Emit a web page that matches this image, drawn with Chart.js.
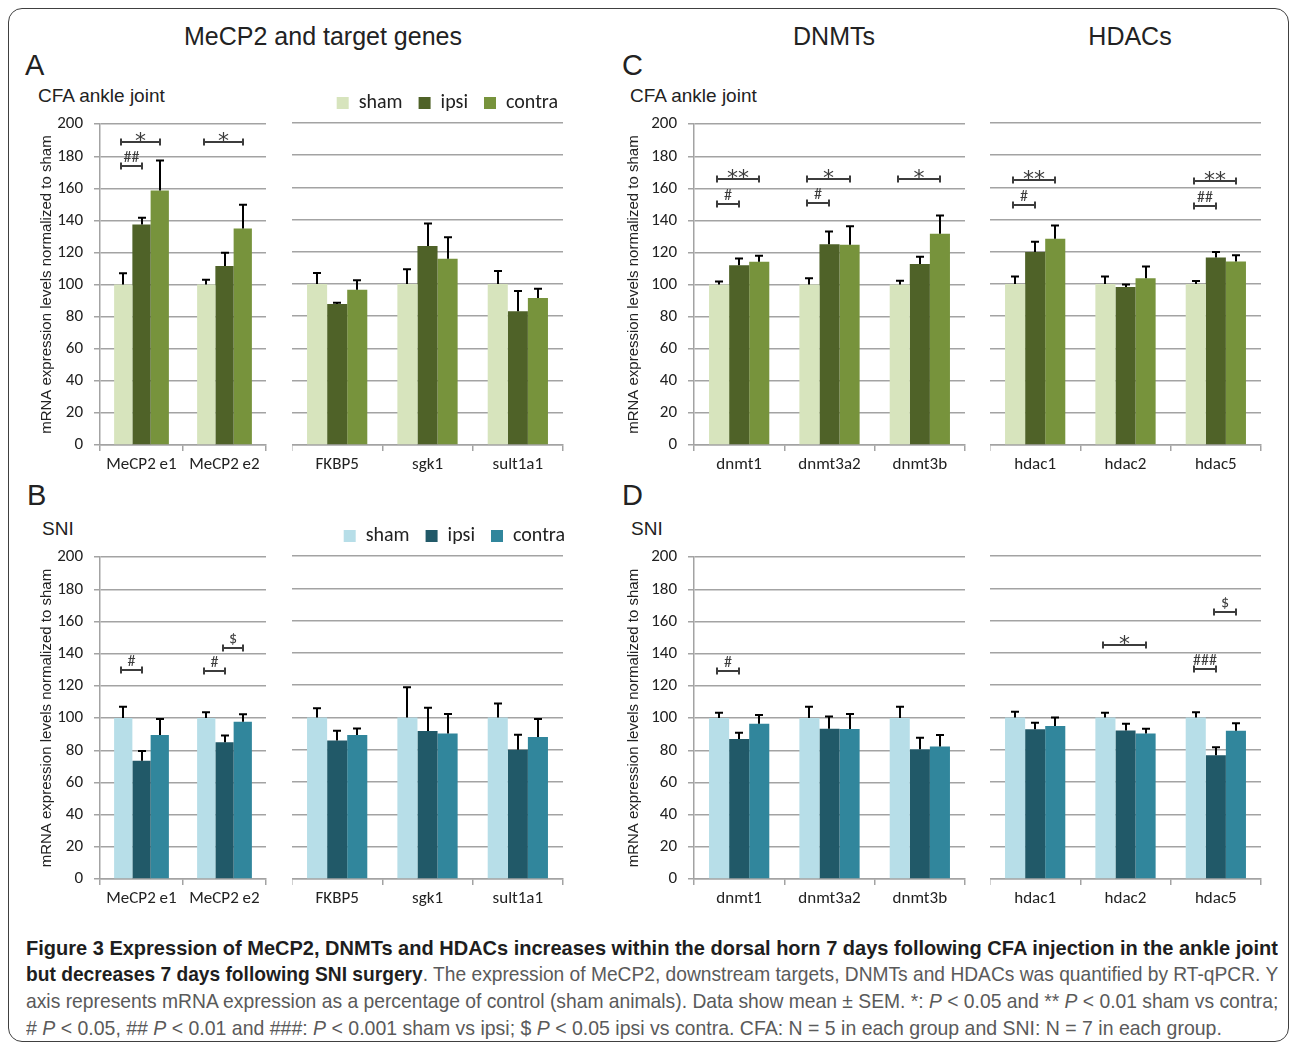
<!DOCTYPE html>
<html>
<head>
<meta charset="utf-8">
<title>Figure 3</title>
<script src="https://cdn.jsdelivr.net/npm/chart.js@4.4.1/dist/chart.umd.min.js"></script>
<style>
html,body{margin:0;padding:0;background:#fff;}
body{width:1290px;height:1045px;position:relative;overflow:hidden;font-family:'Liberation Sans',Arial,sans-serif;}
#frame{position:absolute;left:8px;top:8px;width:1281px;height:1034px;border:1.5px solid #404040;border-radius:14px;box-sizing:border-box;}
.t{position:absolute;white-space:nowrap;color:#222;line-height:1;}
.h{font-size:25px;transform:translateX(-50%);}
.p{font-size:29px;}
.s{font-size:19px;}
canvas{position:absolute;}
.cap{position:absolute;left:26px;white-space:nowrap;transform-origin:0 0;font-size:21px;line-height:1;color:#5a5a5a;font-family:'Liberation Sans Narrow','Liberation Sans',Arial,sans-serif;}
.cap b{color:#1e1e1e;}
</style>
</head>
<body>
<div id="frame"></div>

<div class="t h" style="left:323px;top:24px;">MeCP2 and target genes</div>
<div class="t h" style="left:834px;top:24px;">DNMTs</div>
<div class="t h" style="left:1130px;top:24px;">HDACs</div>

<div class="t p" style="left:25px;top:51px;">A</div>
<div class="t p" style="left:622px;top:51px;">C</div>
<div class="t s" style="left:38px;top:86px;">CFA ankle joint</div>
<div class="t s" style="left:630px;top:86px;">CFA ankle joint</div>

<div class="t p" style="left:27px;top:481px;">B</div>
<div class="t p" style="left:622px;top:481px;">D</div>
<div class="t s" style="left:42px;top:519px;">SNI</div>
<div class="t s" style="left:631px;top:519px;">SNI</div>

<canvas id="cA1" width="232" height="377" style="left:38px;top:103px;"></canvas>
<canvas id="cA2" width="286" height="403" style="left:292px;top:77px;"></canvas>
<canvas id="cC1" width="344" height="377" style="left:625px;top:103px;"></canvas>
<canvas id="cC2" width="275" height="367" style="left:990px;top:113px;"></canvas>
<canvas id="cB1" width="232" height="378" style="left:38px;top:536px;"></canvas>
<canvas id="cB2" width="293" height="404" style="left:292px;top:510px;"></canvas>
<canvas id="cD1" width="344" height="378" style="left:625px;top:536px;"></canvas>
<canvas id="cD2" width="275" height="368" style="left:990px;top:546px;"></canvas>

<div class="cap" data-w="1252" style="top:937px;"><b>Figure 3 Expression of MeCP2, DNMTs and HDACs increases within the dorsal horn 7 days following CFA injection in the ankle joint</b></div>
<div class="cap" data-w="1252" style="top:963px;"><b>but decreases 7 days following SNI surgery</b>. The expression of MeCP2, downstream targets, DNMTs and HDACs was quantified by RT-qPCR. Y</div>
<div class="cap" data-w="1252" style="top:990px;">axis represents mRNA expression as a percentage of control (sham animals). Data show mean ± SEM. *: <i>P</i> &lt; 0.05 and ** <i>P</i> &lt; 0.01 sham vs contra;</div>
<div class="cap" data-w="1196" style="top:1017px;"># <i>P</i> &lt; 0.05, ## <i>P</i> &lt; 0.01 and ###: <i>P</i> &lt; 0.001 sham vs ipsi; $ <i>P</i> &lt; 0.05 ipsi vs contra. CFA: N = 5 in each group and SNI: N = 7 in each group.</div>

<script>
// ---------------- DATA ----------------
const seriesNames = ['sham', 'ipsi', 'contra'];
const yAxisTitle = 'mRNA expression levels normalized to sham';
const yMin = 0, yMax = 200, yStep = 20;

// A: CFA ankle joint - MeCP2
const cfaMecpCategories = ['MeCP2 e1', 'MeCP2 e2'];
const cfaMecpSham      = [100, 100];
const cfaMecpIpsi      = [137.4, 111.6];
const cfaMecpContra    = [158.7, 134.9];
const cfaMecpShamSem   = [7.0, 3.0];
const cfaMecpIpsiSem   = [4.3, 8.2];
const cfaMecpContraSem = [18.6, 14.9];
const cfaMecpSig = [
  {cat: 0, from: 0, to: 2, y: 189, label: '*'},
  {cat: 0, from: 0, to: 1, y: 174, label: '##'},
  {cat: 1, from: 0, to: 2, y: 189, label: '*'}
];

// A: CFA ankle joint - MeCP2 target genes
const cfaTargetCategories = ['FKBP5', 'sgk1', 'sult1a1'];
const cfaTargetSham      = [100, 100, 100];
const cfaTargetIpsi      = [87.6, 123.6, 83.1];
const cfaTargetContra    = [96.5, 115.7, 91.3];
const cfaTargetShamSem   = [6.8, 9.1, 8.0];
const cfaTargetIpsiSem   = [0.8, 14.0, 12.6];
const cfaTargetContraSem = [5.8, 13.4, 5.8];
const cfaTargetSig = [];

// C: CFA ankle joint - DNMTs
const cfaDnmtCategories = ['dnmt1', 'dnmt3a2', 'dnmt3b'];
const cfaDnmtSham      = [100, 100, 100];
const cfaDnmtIpsi      = [112.1, 125.2, 112.8];
const cfaDnmtContra    = [114.2, 124.8, 131.7];
const cfaDnmtShamSem   = [2.0, 4.0, 2.4];
const cfaDnmtIpsiSem   = [4.2, 7.9, 4.5];
const cfaDnmtContraSem = [3.8, 11.6, 11.4];
const cfaDnmtSig = [
  {cat: 0, from: 0, to: 2, y: 165.7, label: '**'},
  {cat: 0, from: 0, to: 1, y: 150.2, label: '#'},
  {cat: 1, from: 0, to: 2, y: 165.7, label: '*'},
  {cat: 1, from: 0, to: 1, y: 150.6, label: '#'},
  {cat: 2, from: 0, to: 2, y: 165.7, label: '*'}
];

// C: CFA ankle joint - HDACs
const cfaHdacCategories = ['hdac1', 'hdac2', 'hdac5'];
const cfaHdacSham      = [100, 100, 100];
const cfaHdacIpsi      = [119.8, 98.2, 116.5];
const cfaHdacContra    = [128.1, 103.6, 114.0];
const cfaHdacShamSem   = [4.7, 4.7, 1.8];
const cfaHdacIpsiSem   = [6.5, 1.5, 3.3];
const cfaHdacContraSem = [8.3, 7.3, 3.8];
const cfaHdacSig = [
  {cat: 0, from: 0, to: 2, y: 164.5, label: '**'},
  {cat: 0, from: 0, to: 1, y: 149.1, label: '#'},
  {cat: 2, from: 0, to: 2, y: 164.0, label: '**'},
  {cat: 2, from: 0, to: 1, y: 148.3, label: '##'}
];

// B: SNI - MeCP2
const sniMecpCategories = ['MeCP2 e1', 'MeCP2 e2'];
const sniMecpSham      = [100, 100];
const sniMecpIpsi      = [73.5, 85.0];
const sniMecpContra    = [89.5, 97.8];
const sniMecpShamSem   = [7.0, 3.6];
const sniMecpIpsiSem   = [6.0, 4.2];
const sniMecpContraSem = [10.0, 4.6];
const sniMecpSig = [
  {cat: 0, from: 0, to: 1, y: 130, label: '#'},
  {cat: 1, from: 0, to: 1, y: 129, label: '#'},
  {cat: 1, from: 1, to: 2, y: 143.6, label: '$'}
];

// B: SNI - MeCP2 target genes
const sniTargetCategories = ['FKBP5', 'sgk1', 'sult1a1'];
const sniTargetSham      = [100, 100, 100];
const sniTargetIpsi      = [85.7, 91.6, 80.1];
const sniTargetContra    = [89.1, 90.1, 88.0];
const sniTargetShamSem   = [5.7, 18.8, 8.6];
const sniTargetIpsiSem   = [6.1, 14.5, 9.2];
const sniTargetContraSem = [4.1, 12.1, 11.0];
const sniTargetSig = [];

// D: SNI - DNMTs
const sniDnmtCategories = ['dnmt1', 'dnmt3a2', 'dnmt3b'];
const sniDnmtSham      = [100, 100, 100];
const sniDnmtIpsi      = [87.0, 93.4, 80.6];
const sniDnmtContra    = [96.5, 93.2, 82.3];
const sniDnmtShamSem   = [3.3, 7.0, 7.0];
const sniDnmtIpsiSem   = [3.9, 7.6, 7.2];
const sniDnmtContraSem = [5.4, 9.3, 7.2];
const sniDnmtSig = [
  {cat: 0, from: 0, to: 1, y: 129.4, label: '#'}
];

// D: SNI - HDACs
const sniHdacCategories = ['hdac1', 'hdac2', 'hdac5'];
const sniHdacSham      = [100, 100, 100];
const sniHdacIpsi      = [92.8, 92.0, 76.7];
const sniHdacContra    = [94.8, 90.1, 91.8];
const sniHdacShamSem   = [3.5, 2.9, 3.3];
const sniHdacIpsiSem   = [3.9, 4.1, 4.9];
const sniHdacContraSem = [5.2, 2.9, 4.7];
const sniHdacSig = [
  {cat: 1, from: 0, to: 2, y: 145.2, label: '*'},
  {cat: 2, from: 1, to: 2, y: 165.6, label: '$'},
  {cat: 2, from: 0, to: 1, y: 130.3, label: '###'}
];

// ---------------- STYLE ----------------
const cfaColors = ['#d7e4bd', '#4f6228', '#77933c'];
const sniColors = ['#b7dee8', '#215968', '#31869c'];
const calibriLike = "Carlito, Calibri, Lato, 'Open Sans', sans-serif";
const gridColor = '#a3a3a3';

Chart.defaults.animation = false;
Chart.defaults.devicePixelRatio = 1;

function annotations(sems, sig) {
  return {
    id: 'semAndSig',
    afterDatasetsDraw(chart) {
      const ctx = chart.ctx;
      const ys = chart.scales.y;
      ctx.save();
      // SEM error bars (upper only)
      ctx.strokeStyle = '#000';
      ctx.lineWidth = 2;
      chart.data.datasets.forEach((ds, i) => {
        chart.getDatasetMeta(i).data.forEach((bar, j) => {
          const x = Math.round(bar.x);
          const top = ys.getPixelForValue(ds.data[j] + sems[i][j]);
          ctx.beginPath();
          ctx.moveTo(x, bar.y);
          ctx.lineTo(x, top);
          ctx.moveTo(x - 4, top);
          ctx.lineTo(x + 4, top);
          ctx.stroke();
        });
      });
      // significance brackets
      ctx.strokeStyle = '#3c3c3c';
      ctx.fillStyle = '#3c3c3c';
      ctx.textAlign = 'center';
      ctx.textBaseline = 'alphabetic';
      sig.forEach(s => {
        const x1 = Math.round(chart.getDatasetMeta(s.from).data[s.cat].x) - 2;
        const x2 = Math.round(chart.getDatasetMeta(s.to).data[s.cat].x);
        const y = Math.round(ys.getPixelForValue(s.y));
        ctx.lineWidth = 2;
        ctx.beginPath();
        ctx.moveTo(x1, y); ctx.lineTo(x2, y);
        ctx.moveTo(x1, y - 3.5); ctx.lineTo(x1, y + 3.5);
        ctx.moveTo(x2, y - 3.5); ctx.lineTo(x2, y + 3.5);
        ctx.stroke();
        const star = s.label.indexOf('*') >= 0;
        ctx.font = star ? "22px 'DejaVu Sans', sans-serif" : '16px ' + calibriLike;
        ctx.fillText(s.label, (x1 + x2) / 2, star ? y + 6 : y - 4);
      });
      ctx.restore();
    }
  };
}

function buildChart(spec) {
  const values = [spec.sham, spec.ipsi, spec.contra];
  const sems = [spec.shamSem, spec.ipsiSem, spec.contraSem];
  const scales = {
    x: {
      ticks: { color: '#222', font: { family: calibriLike, size: 17 }, padding: 4, maxRotation: 0 },
      grid: { display: true, drawOnChartArea: false, drawTicks: true, tickLength: 6,
              color: gridColor, lineWidth: 1.5, offset: true },
      border: { display: true, color: gridColor, width: 1.5 },
      afterFit: s => { s.height = 35; }
    },
    y: {
      min: yMin, max: yMax,
      ticks: { display: spec.yAxis, stepSize: yStep, color: '#222',
               font: { family: calibriLike, size: 17 }, padding: 11 },
      grid: { color: gridColor, lineWidth: 1.5, drawTicks: spec.yAxis, tickLength: 6 },
      border: { display: spec.yAxis, color: gridColor, width: 1.5 },
      title: { display: spec.yAxis, text: yAxisTitle, color: '#222',
               font: { family: "'Liberation Sans', Arial, sans-serif", size: 15 },
               padding: { top: 0, bottom: 0 } },
      afterFit: s => { s.width = spec.yWidth; }
    }
  };
  if (spec.legendExtra) {
    // empty right-hand spacer so the legend can reach further right than the plot area
    scales.spacer = {
      type: 'linear', position: 'right', display: true, min: 0, max: 1,
      ticks: { display: false }, grid: { display: false, drawTicks: false },
      border: { display: false },
      afterFit: s => { s.width = spec.legendExtra; }
    };
  }
  return new Chart(document.getElementById(spec.id), {
    type: 'bar',
    data: {
      labels: spec.categories,
      datasets: seriesNames.map((name, i) => ({
        label: name,
        data: values[i],
        backgroundColor: spec.colors[i],
        borderWidth: 0,
        barPercentage: 1,
        categoryPercentage: spec.catPct,
        yAxisID: 'y'
      }))
    },
    options: {
      responsive: false,
      maintainAspectRatio: false,
      animation: false,
      layout: { padding: { top: spec.padTop, right: 4, left: 0, bottom: 0 } },
      plugins: {
        tooltip: { enabled: false },
        legend: {
          display: spec.legend,
          position: 'top',
          align: 'end',
          labels: {
            boxWidth: 12, boxHeight: 12, padding: 16, color: '#222',
            font: { family: calibriLike, size: 20 }
          }
        }
      },
      scales: scales
    },
    plugins: [annotations(sems, spec.sig)]
  });
}

buildChart({ id: 'cA1', categories: cfaMecpCategories, sham: cfaMecpSham, ipsi: cfaMecpIpsi, contra: cfaMecpContra,
  shamSem: cfaMecpShamSem, ipsiSem: cfaMecpIpsiSem, contraSem: cfaMecpContraSem, sig: cfaMecpSig,
  colors: cfaColors, yAxis: true, yWidth: 62, legend: false, padTop: 0, catPct: 0.66 });
buildChart({ id: 'cA2', categories: cfaTargetCategories, sham: cfaTargetSham, ipsi: cfaTargetIpsi, contra: cfaTargetContra,
  shamSem: cfaTargetShamSem, ipsiSem: cfaTargetIpsiSem, contraSem: cfaTargetContraSem, sig: cfaTargetSig,
  colors: cfaColors, yAxis: false, yWidth: 0, legend: true, legendExtra: 11, padTop: 0, catPct: 0.667 });
buildChart({ id: 'cC1', categories: cfaDnmtCategories, sham: cfaDnmtSham, ipsi: cfaDnmtIpsi, contra: cfaDnmtContra,
  shamSem: cfaDnmtShamSem, ipsiSem: cfaDnmtIpsiSem, contraSem: cfaDnmtContraSem, sig: cfaDnmtSig,
  colors: cfaColors, yAxis: true, yWidth: 69, legend: false, padTop: 0, catPct: 0.667 });
buildChart({ id: 'cC2', categories: cfaHdacCategories, sham: cfaHdacSham, ipsi: cfaHdacIpsi, contra: cfaHdacContra,
  shamSem: cfaHdacShamSem, ipsiSem: cfaHdacIpsiSem, contraSem: cfaHdacContraSem, sig: cfaHdacSig,
  colors: cfaColors, yAxis: false, yWidth: 0, legend: false, padTop: 10, catPct: 0.667 });
buildChart({ id: 'cB1', categories: sniMecpCategories, sham: sniMecpSham, ipsi: sniMecpIpsi, contra: sniMecpContra,
  shamSem: sniMecpShamSem, ipsiSem: sniMecpIpsiSem, contraSem: sniMecpContraSem, sig: sniMecpSig,
  colors: sniColors, yAxis: true, yWidth: 62, legend: false, padTop: 0, catPct: 0.66 });
buildChart({ id: 'cB2', categories: sniTargetCategories, sham: sniTargetSham, ipsi: sniTargetIpsi, contra: sniTargetContra,
  shamSem: sniTargetShamSem, ipsiSem: sniTargetIpsiSem, contraSem: sniTargetContraSem, sig: sniTargetSig,
  colors: sniColors, yAxis: false, yWidth: 0, legend: true, legendExtra: 18, padTop: 0, catPct: 0.667 });
buildChart({ id: 'cD1', categories: sniDnmtCategories, sham: sniDnmtSham, ipsi: sniDnmtIpsi, contra: sniDnmtContra,
  shamSem: sniDnmtShamSem, ipsiSem: sniDnmtIpsiSem, contraSem: sniDnmtContraSem, sig: sniDnmtSig,
  colors: sniColors, yAxis: true, yWidth: 69, legend: false, padTop: 0, catPct: 0.667 });
buildChart({ id: 'cD2', categories: sniHdacCategories, sham: sniHdacSham, ipsi: sniHdacIpsi, contra: sniHdacContra,
  shamSem: sniHdacShamSem, ipsiSem: sniHdacIpsiSem, contraSem: sniHdacContraSem, sig: sniHdacSig,
  colors: sniColors, yAxis: false, yWidth: 0, legend: false, padTop: 10, catPct: 0.667 });

// fit caption lines to their measured widths in the reference
document.querySelectorAll('.cap').forEach(el => {
  const target = parseFloat(el.dataset.w);
  const w = el.offsetWidth;
  if (w > 0) el.style.transform = 'scaleX(' + (target / w) + ')';
});
</script>
</body>
</html>
